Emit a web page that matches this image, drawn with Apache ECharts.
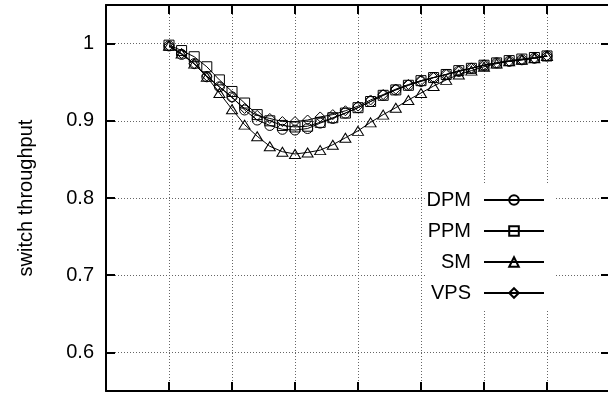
<!DOCTYPE html>
<html>
<head>
<meta charset="utf-8">
<script src="https://cdn.jsdelivr.net/npm/echarts@6/dist/echarts.min.js"></script>
<style>
html, body { margin: 0; padding: 0; background: #fff; }
#chart { width: 608px; height: 394px; }
</style>
</head>
<body>
<div id="chart"></div>
<script>
// offered load (x) for every sample
const loads = [0.10, 0.12, 0.14, 0.16, 0.18, 0.20, 0.22, 0.24, 0.26, 0.28,
               0.30, 0.32, 0.34, 0.36, 0.38, 0.40, 0.42, 0.44, 0.46, 0.48,
               0.50, 0.52, 0.54, 0.56, 0.58, 0.60, 0.62, 0.64, 0.66, 0.68, 0.70];

// switch throughput per scheme
const dpm = [0.997, 0.986, 0.974, 0.957, 0.944, 0.931, 0.914, 0.901, 0.894, 0.889,
             0.888, 0.890, 0.897, 0.903, 0.910, 0.917, 0.925, 0.933, 0.940, 0.946,
             0.951, 0.956, 0.960, 0.964, 0.968, 0.972, 0.975, 0.977, 0.979, 0.981, 0.984];
const ppm = [0.998, 0.991, 0.983, 0.970, 0.953, 0.938, 0.923, 0.908, 0.900, 0.894,
             0.892, 0.893, 0.898, 0.904, 0.910, 0.917, 0.925, 0.933, 0.940, 0.946,
             0.952, 0.956, 0.960, 0.965, 0.968, 0.972, 0.975, 0.978, 0.980, 0.982, 0.984];
const sm  = [0.997, 0.987, 0.974, 0.957, 0.936, 0.915, 0.895, 0.880, 0.867, 0.860,
             0.857, 0.859, 0.862, 0.869, 0.878, 0.887, 0.898, 0.908, 0.917, 0.927,
             0.936, 0.945, 0.953, 0.960, 0.965, 0.970, 0.974, 0.977, 0.979, 0.981, 0.984];
const vps = [0.997, 0.987, 0.974, 0.958, 0.944, 0.930, 0.916, 0.907, 0.903, 0.899,
             0.899, 0.901, 0.905, 0.908, 0.913, 0.919, 0.927, 0.934, 0.941, 0.947,
             0.952, 0.956, 0.960, 0.964, 0.968, 0.972, 0.975, 0.977, 0.979, 0.981, 0.984];

const yTicks = [0.6, 0.7, 0.8, 0.9, 1.0];
const seriesNames = ['DPM', 'PPM', 'SM', 'VPS'];

const FONT = '"Liberation Sans", Arial, Helvetica, sans-serif';
const FS = 20;

const gridDots = { color: '#666', width: 1, type: [1, 2] };
const frame = { color: '#000', width: 2 };

function lineSeries(name, values, symbol, size) {
  return {
    name: name,
    type: 'line',
    data: loads.map((x, i) => [x, values[i]]),
    symbol: symbol,
    symbolSize: size,
    showAllSymbol: true,
    animation: false,
    lineStyle: { color: '#000', width: 1 },
    itemStyle: { color: 'rgba(0,0,0,0)', borderColor: '#000', borderWidth: 1 },
    emphasis: { disabled: true }
  };
}

const chart = echarts.init(document.getElementById('chart'), null, { renderer: 'canvas' });

chart.setOption({
  animation: false,
  backgroundColor: '#fff',
  grid: { left: 106, top: 5, width: 504, height: 386, containLabel: false, outerBoundsMode: 'none' },
  xAxis: [
    {
      type: 'value', position: 'bottom', min: 0, max: 0.8, interval: 0.1,
      axisLine: { show: true, onZero: false, lineStyle: frame },
      axisTick: { show: true, inside: true, length: 9, lineStyle: frame },
      axisLabel: { show: false },
      splitLine: { show: true, lineStyle: gridDots }
    },
    {
      type: 'value', position: 'top', min: 0, max: 0.8, interval: 0.1,
      axisLine: { show: true, onZero: false, lineStyle: frame },
      axisTick: { show: true, inside: true, length: 9, lineStyle: frame },
      axisLabel: { show: false },
      splitLine: { show: false }
    }
  ],
  yAxis: [
    {
      type: 'value', position: 'left', min: 0.55, max: 1.05,
      name: 'switch throughput', nameLocation: 'middle', nameGap: 70,
      nameTextStyle: { fontSize: FS, color: '#000', fontFamily: FONT },
      axisLine: { show: true, onZero: false, lineStyle: frame },
      axisTick: { show: true, inside: true, length: 9, lineStyle: frame, customValues: yTicks },
      axisLabel: {
        customValues: yTicks, margin: 12, fontSize: FS, color: '#000', fontFamily: FONT,
        formatter: v => String(+(+v).toFixed(2))
      },
      splitLine: { show: true, lineStyle: gridDots }
    },
    {
      type: 'value', position: 'right', min: 0.55, max: 1.05,
      axisLine: { show: true, onZero: false, lineStyle: frame },
      axisTick: { show: true, inside: true, length: 9, lineStyle: frame, customValues: yTicks },
      axisLabel: { show: false, customValues: yTicks },
      splitLine: { show: false }
    }
  ],
  legend: {
    orient: 'vertical', right: 52, top: 183, align: 'right',
    itemWidth: 60, itemHeight: 12, itemGap: 11,
    backgroundColor: '#fff', padding: [7, 11, 8, 0],
    selectedMode: false,
    textStyle: { fontSize: FS, color: '#000', fontFamily: FONT, padding: [0, 8, 0, 0] },
    data: seriesNames
  },
  series: [
    lineSeries(seriesNames[0], dpm, 'circle', 10),
    lineSeries(seriesNames[1], ppm, 'rect', 10),
    lineSeries(seriesNames[2], sm, 'triangle', [11, 9]),
    lineSeries(seriesNames[3], vps, 'diamond', [10, 10])
  ]
});
</script>
</body>
</html>
